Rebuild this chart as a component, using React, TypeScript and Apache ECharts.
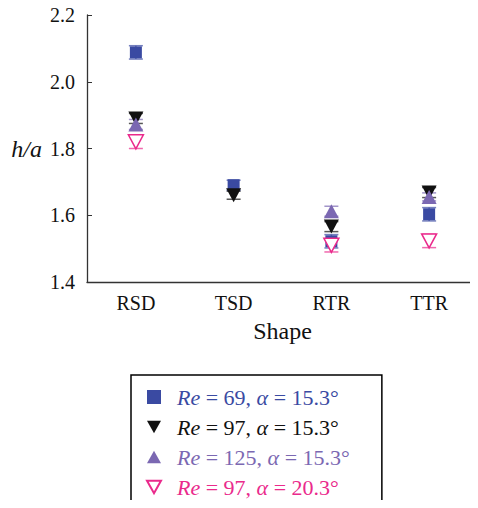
import React, { useEffect, useRef } from "react";
import * as echarts from "echarts";

const categories = ["RSD", "TSD", "RTR", "TTR"];
const yTicks = [1.4, 1.6, 1.8, 2.0, 2.2];

const seriesNames = [
  "Re = 69, α = 15.3°",
  "Re = 97, α = 15.3°",
  "Re = 125, α = 15.3°",
  "Re = 97, α = 20.3°",
];

const re69 = [2.088, 1.69, 1.522, 1.603];
const re97 = [1.89, 1.66, 1.566, 1.668];
const re125 = [1.872, null, 1.612, 1.655];
const re97a20 = [1.82, null, 1.51, 1.523];

const re69Err = [0.02, 0.015, 0.02, 0.02];
const re97Err = [0.015, 0.012, 0.015, 0.015];
const re125Err = [0.015, null, 0.015, 0.012];
const re97a20Err = [0.02, null, 0.02, 0.02];

const colors = ["#3a4aa2", "#111111", "#7b68b2", "#ea2a8c"];
const FONT = "Liberation Serif";
const DOWN_TRI = "path://M0,0 L10,0 L5,9 Z";
const UP_TRI = "path://M5,0 L10,9 L0,9 Z";

export default function App() {
  const ref = useRef<HTMLDivElement>(null);
  useEffect(() => {
    if (!ref.current) return;
    const chart = echarts.init(ref.current, null, { renderer: "svg" });
    const values = [re69, re97, re125, re97a20];
    const errs = [re69Err, re97Err, re125Err, re97a20Err];
    const symbols = ["rect", DOWN_TRI, UP_TRI, DOWN_TRI];
    const sizes: any[] = [12, [15, 14], [15, 14], [15, 14]];

    const scatterSeries = values.map((vals, si) => ({
      type: "scatter",
      name: seriesNames[si],
      symbol: symbols[si],
      symbolSize: sizes[si],
      z: 3,
      itemStyle:
        si === 3
          ? { color: "#ffffff", borderColor: colors[si], borderWidth: 1.5, opacity: 1 }
          : { color: colors[si], opacity: 1 },
      data: vals.map((v, i) => (v == null ? null : [i, v])).filter((d) => d),
    }));

    const errorSeries = values.map((vals, si) => ({
      type: "custom",
      name: seriesNames[si] + " err",
      z: 2,
      data: vals
        .map((v, i) =>
          v == null || errs[si][i] == null
            ? null
            : [i, v - (errs[si][i] as number), v + (errs[si][i] as number)]
        )
        .filter((d) => d),
      renderItem: (params: any, api: any) => {
        const x = api.value(0);
        const lo = api.coord([x, api.value(1)]);
        const hi = api.coord([x, api.value(2)]);
        const hw = 7;
        const style = { stroke: colors[si], lineWidth: 1.5, opacity: 0.7 };
        return {
          type: "group",
          children: [
            { type: "line", shape: { x1: lo[0], y1: lo[1], x2: hi[0], y2: hi[1] }, style },
            { type: "line", shape: { x1: lo[0] - hw, y1: lo[1], x2: lo[0] + hw, y2: lo[1] }, style },
            { type: "line", shape: { x1: hi[0] - hw, y1: hi[1], x2: hi[0] + hw, y2: hi[1] }, style },
          ],
        };
      },
    }));

    const fmt = (name: string) => {
      const m = name.match(/^Re(.*?)α(.*)$/);
      if (!m) return name;
      return `{s| }{i|Re}{n|${m[1]}}{i|α}{n|${m[2]}}`;
    };

    chart.setOption({
      animation: false,
      textStyle: { fontFamily: FONT },
      grid: { left: 87, top: 15, width: 398, height: 267, containLabel: false },
      xAxis: {
        type: "category",
        data: categories,
        boundaryGap: true,
        name: "Shape",
        nameLocation: "middle",
        nameGap: 37,
        nameTextStyle: { fontFamily: FONT, fontSize: 24, color: "#111" },
        axisLine: { lineStyle: { color: "#333", width: 1.3 } },
        axisTick: { alignWithLabel: true, inside: true, length: 5, lineStyle: { color: "#333" } },
        axisLabel: { fontFamily: FONT, fontSize: 20, color: "#111", margin: 11 },
        splitLine: { show: false },
      },
      yAxis: {
        type: "value",
        min: yTicks[0],
        max: yTicks[yTicks.length - 1],
        interval: 0.2,
        name: "h/a",
        nameLocation: "middle",
        nameRotate: 0,
        nameGap: 45,
        nameTextStyle: { fontFamily: FONT, fontSize: 24, fontStyle: "italic", color: "#111" },
        axisLine: { show: true, lineStyle: { color: "#333", width: 1.3 } },
        axisTick: { show: true, inside: true, length: 5, lineStyle: { color: "#333" } },
        axisLabel: {
          fontFamily: FONT,
          fontSize: 20,
          color: "#111",
          margin: 12,
          formatter: (v: number) => v.toFixed(1),
        },
        splitLine: { show: false },
      },
      legend: {
        orient: "vertical",
        left: 131,
        top: 375,
        height: 300,
        padding: [11, 32, 12, 15],
        itemWidth: 14,
        itemHeight: 14,
        itemGap: 8,
        borderColor: "#000",
        borderWidth: 1.5,
        data: seriesNames.map((n, i) => ({ name: n, textStyle: { color: colors[i] } })),
        formatter: fmt,
        textStyle: {
          fontFamily: FONT,
          fontSize: 22,
          lineHeight: 22,
          rich: {
            s: { fontFamily: FONT, fontSize: 22, width: 11 },
            i: { fontFamily: FONT, fontSize: 22, fontStyle: "italic" },
            n: { fontFamily: FONT, fontSize: 22 },
          },
        },
      },
      series: [...errorSeries, ...scatterSeries],
    });
    return () => chart.dispose();
  }, []);
  return <div ref={ref} style={{ width: 478, height: 508, margin: -8 }} />;
}
